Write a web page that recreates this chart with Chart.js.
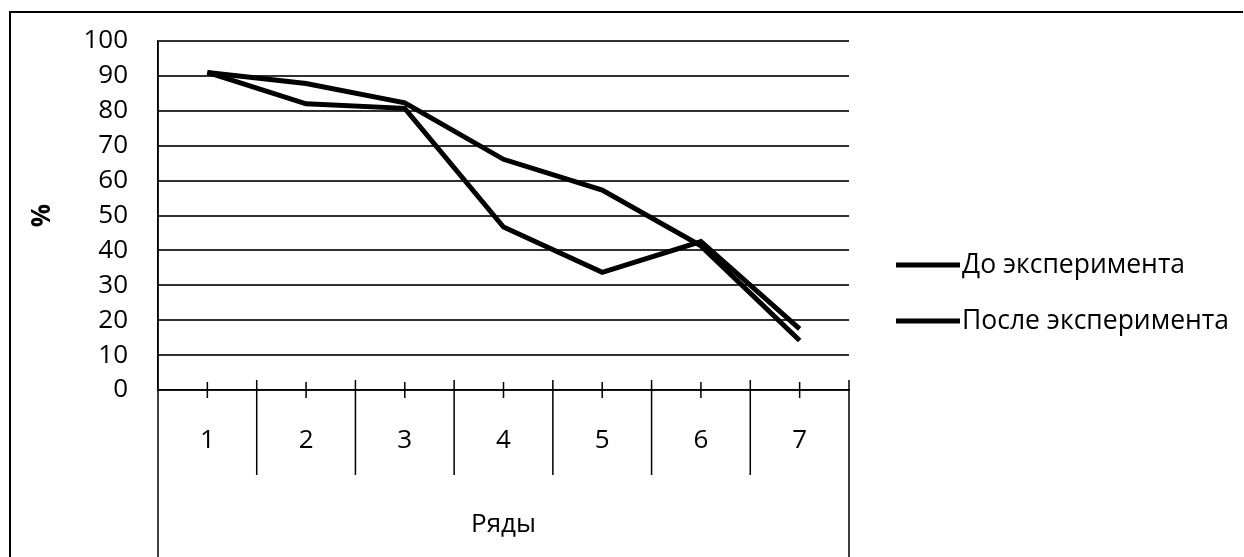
<!DOCTYPE html>
<html>
<head>
<meta charset="utf-8">
<script src="https://cdn.jsdelivr.net/npm/chart.js@4/dist/chart.umd.min.js"></script>
<style>
  html, body { margin: 0; padding: 0; background: #fff; }
  #wrap { width: 1244px; height: 557px; }
</style>
</head>
<body>
<div id="wrap"><canvas id="lineChart" width="1244" height="557"></canvas></div>
<script>
// data
const rows = ['1', '2', '3', '4', '5', '6', '7']
const beforeExp = [91, 87.8, 82.3, 66.1, 57.3, 41.3, 14.2]
const afterExp = [91, 82.0, 80.7, 46.7, 33.7, 42.5, 17.5]
const seriesNames = ['До эксперимента', 'После эксперимента']
const yTicks = [0, 10, 20, 30, 40, 50, 60, 70, 80, 90, 100]

const fontFamily = '"Open Sans", "Noto Sans", sans-serif'
const ink = '#000'

// frame, category boxes, centre ticks and legend
const extras = {
    id: 'extras',
    afterDraw(chart) {
        const ctx = chart.ctx
        const x = chart.scales.x
        const area = chart.chartArea
        ctx.save()
        ctx.strokeStyle = ink
        // outer frame
        ctx.lineWidth = 2
        ctx.beginPath()
        ctx.moveTo(10, chart.height)
        ctx.lineTo(10, 12)
        ctx.lineTo(1243, 12)
        ctx.stroke()
        // category box lines
        ctx.lineWidth = 1.5
        ctx.beginPath()
        ctx.moveTo(area.left, area.top)
        ctx.lineTo(area.left, chart.height)
        ctx.moveTo(area.right, area.bottom - 10)
        ctx.lineTo(area.right, chart.height)
        for (let i = 0; i < rows.length - 1; i++) {
            let mid = (x.getPixelForValue(i) + x.getPixelForValue(i + 1)) / 2
            ctx.moveTo(mid, area.bottom - 10)
            ctx.lineTo(mid, area.bottom + 85)
        }
        // short ticks at the points
        for (let i = 0; i < rows.length; i++) {
            let px = x.getPixelForValue(i)
            ctx.moveTo(px, area.bottom - 8)
            ctx.lineTo(px, area.bottom + 8)
        }
        ctx.stroke()
        // legend
        ctx.font = '26.5px ' + fontFamily
        ctx.fillStyle = ink
        ctx.textBaseline = 'middle'
        ctx.lineWidth = 5
        const legendY = [265, 321]
        seriesNames.forEach((name, i) => {
            ctx.beginPath()
            ctx.moveTo(896, legendY[i])
            ctx.lineTo(960, legendY[i])
            ctx.stroke()
            ctx.fillText(name, 962, legendY[i])
        })
        ctx.restore()
    }
}

const tickFont = { family: fontFamily, size: 26 }

new Chart('lineChart', {
    type: 'line',
    data: {
        labels: rows,
        datasets: [
            { label: seriesNames[0], data: beforeExp, borderColor: ink, backgroundColor: ink, borderWidth: 5, pointRadius: 0, tension: 0, fill: false },
            { label: seriesNames[1], data: afterExp, borderColor: ink, backgroundColor: ink, borderWidth: 5, pointRadius: 0, tension: 0, fill: false },
        ]
    },
    options: {
        responsive: false,
        animation: false,
        layout: { padding: { top: 41, right: 395, left: 0, bottom: 0 } },
        plugins: {
            legend: { display: false },
            tooltip: { enabled: false },
        },
        scales: {
            x: {
                type: 'category',
                offset: true,
                grid: { display: false, drawTicks: false },
                border: { display: true, color: ink, width: 1.5 },
                ticks: { color: ink, font: tickFont, padding: 35, maxRotation: 0 },
                title: { display: true, text: 'Ряды', color: ink, font: tickFont, padding: { top: 0, bottom: 17 } },
                afterFit: (scale) => { scale.height = 167 },
            },
            y: {
                min: 0,
                max: 100,
                afterBuildTicks: (scale) => { scale.ticks = yTicks.map(v => ({ value: v })) },
                grid: { color: '#303030', lineWidth: 2, drawTicks: false },
                border: { display: true, color: ink, width: 1.5 },
                ticks: { color: ink, font: tickFont, padding: 30 },
                title: { display: true, text: '%', color: ink, font: { family: fontFamily, size: 26, weight: 'bold' }, padding: { top: 27 } },
                afterFit: (scale) => {
                    scale.width = 158
                    scale.paddingTop = 0
                    scale.paddingBottom = 0
                },
            }
        }
    },
    plugins: [extras]
})
</script>
</body>
</html>
